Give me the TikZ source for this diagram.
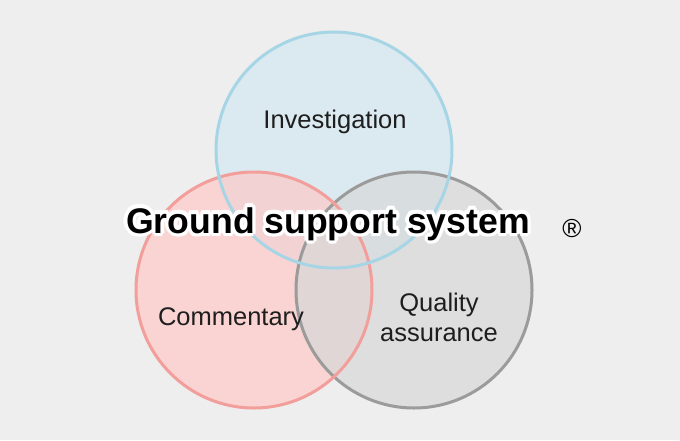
\documentclass[tikz,border=0pt]{standalone}
\usepackage{fontspec}
\setmainfont{Liberation Sans}
\usetikzlibrary{calc}
\definecolor{bgc}{RGB}{238,238,238}
\definecolor{bluefill}{RGB}{212,231,242}
\definecolor{pinkfill}{RGB}{254,201,199}
\definecolor{greyfill}{RGB}{216,216,216}
\definecolor{bluestroke}{RGB}{166,213,230}
\definecolor{pinkstroke}{RGB}{242,158,155}
\definecolor{greystroke}{RGB}{155,155,155}
\definecolor{labelc}{RGB}{30,30,30}
\begin{document}
\begin{tikzpicture}[x=1pt,y=-1pt,
  circfill/.style={fill opacity=0.7},
  ring/.style={line width=3pt},
  lbl/.style={text=labelc, font=\fontsize{25.5}{32}\selectfont, inner sep=0pt, anchor=base},
  titlefont/.style={font=\bfseries\fontsize{35.6}{40}\selectfont, inner sep=0pt, anchor=base}
]
\fill[bgc] (0,0) rectangle (680,440);
\useasboundingbox (0,0) rectangle (680,440);
\coordinate (cb) at (334,150);
\coordinate (cp) at (254,290);
\coordinate (cg) at (414,290);
% fills
\fill[bluefill, circfill] (cb) circle (118);
\fill[pinkfill, circfill] (cp) circle (118);
\fill[greyfill, circfill] (cg) circle (118);
% strokes
\draw[greystroke, ring] (cg) circle (118);
\draw[pinkstroke, ring] (cp) circle (118);
\draw[bluestroke, ring] (cb) circle (118);
% labels
\node[lbl] (inv) at (335,128) {Investigation};
\node[lbl] (com) at (231,325) {Commentary};
\node[lbl] (qua) at (439,311) {Quality};
\node[lbl] (ass) at (439,341) {assurance};
% title with white halo
\foreach \a in {0,30,...,330}{
  \node[titlefont, text=white] (halo\a) at ($(328,233)+(\a:3.5)$) {Ground support system};
}
\node[titlefont, text=black] (title) at (328,233) {Ground support system};
\node[font=\fontsize{26}{30}\selectfont, inner sep=0pt] (reg) at (572,229) {®};
\end{tikzpicture}
\end{document}
